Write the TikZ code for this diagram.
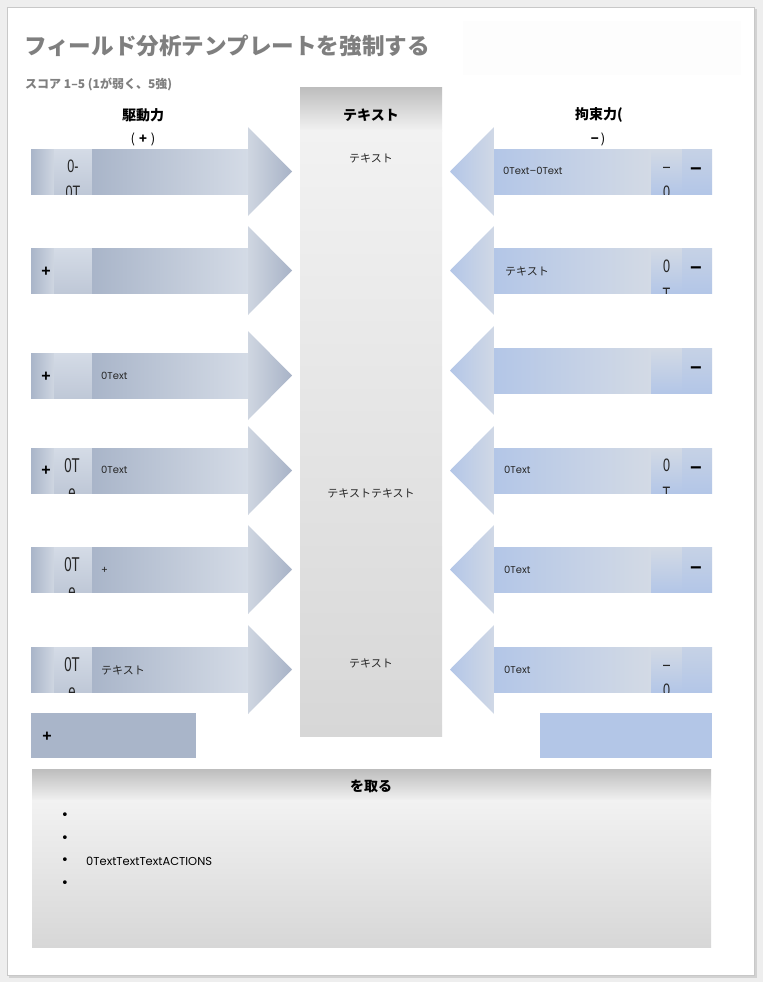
\documentclass[tikz,border=0pt]{standalone}
\usepackage{fontspec}
\setmainfont{Poppins}
\newfontfamily\jp{Noto Sans CJK JP}
\newfontfamily\ls{Liberation Sans}
\newfontfamily\dv{DejaVu Sans}
\definecolor{pagebg}{HTML}{EEEEEE}
\definecolor{shadowc}{HTML}{D2D2D2}
\definecolor{pageline}{HTML}{C8C8C8}
\definecolor{faint}{HTML}{FDFDFD}
\definecolor{titlegray}{HTML}{7F7F7F}
\definecolor{lD}{HTML}{A9B5C9}
\definecolor{lL}{HTML}{D4DBE6}
\definecolor{lM}{HTML}{BFC8D7}
\definecolor{lHL}{HTML}{CFD6E1}
\definecolor{lHD}{HTML}{A8B3C7}
\definecolor{rD}{HTML}{B3C6E7}
\definecolor{rL}{HTML}{D3DAE5}
\definecolor{rHL}{HTML}{D0D8E6}
\definecolor{gTop}{HTML}{BDBDBD}
\definecolor{gMid}{HTML}{F2F2F2}
\definecolor{gBot}{HTML}{D7D7D7}
\definecolor{txt}{HTML}{262626}
\newcommand\LeftRow[1]{%
  \shade[left color=lD, right color=lHL] (31,#1) rectangle (54,#1+45);
  \shade[top color=lL, bottom color=lM] (54,#1) rectangle (92,#1+45);
  \shade[left color=lD, right color=lL] (92,#1) rectangle (248,#1+45);
  \shade[left color=lHL, right color=lHD] (248,#1-22) -- (292,#1+22.5) -- (248,#1+67) -- cycle;
}
\newcommand\RightRow[1]{%
  \shade[left color=rD, right color=rHL] (494,#1-22) -- (450,#1+22.5) -- (494,#1+67) -- cycle;
  \shade[left color=rD, right color=rL] (494,#1) rectangle (651,#1+45);
  \shade[top color=rL, bottom color=rD] (651,#1) rectangle (682,#1+45);
  \shade[top color=rL!60!rD, bottom color=rD] (682,#1) rectangle (712,#1+45);
}
\begin{document}
\begin{tikzpicture}[x=1pt,y=-1pt,
  jptxt/.style={font=\jp\fontsize{11}{13}\selectfont, text=txt, inner sep=0pt},
  jphead/.style={font=\jp\bfseries\fontsize{14}{16}\selectfont, text=black, inner sep=0pt},
  rowtxt/.style={font=\fontsize{10}{12}\selectfont, text=txt, inner sep=0pt, anchor=west},
  celltxt/.style={font=\ls\fontsize{18}{20}\selectfont, text=txt, inner sep=0pt, anchor=base, xscale=0.7},
  bigcell/.style={font=\ls\fontsize{20}{22}\selectfont, text=txt, inner sep=0pt, anchor=base, xscale=0.66},
  plus/.style={font=\ls\bfseries\fontsize{16}{18}\selectfont, text=black, inner sep=0pt},
  minus/.style={font=\ls\bfseries\fontsize{20}{22}\selectfont, text=black, inner sep=0pt},
  bullet/.style={font=\dv\fontsize{13}{15}\selectfont, text=black, inner sep=0pt}]
\useasboundingbox (0,0) rectangle (763,982);
\fill[pagebg] (0,0) rectangle (763,982);
\fill[shadowc] (9,9) rectangle (757,978);
\filldraw[fill=white, draw=pageline, line width=0.8pt] (7,7) rectangle (754,975);
\fill[faint] (463,21) rectangle (741,75);
% title
\node[anchor=west, font=\jp\bfseries\fontsize{22.6}{26}\selectfont, text=titlegray, inner sep=0pt] (title) at (24,46) {フィールド分析テンプレートを強制する};
\node[anchor=west, font=\jp\bfseries\fontsize{12}{14}\selectfont, text=titlegray, inner sep=0pt] (subtitle) at (25,84) {スコア 1–5 (1が弱く、5強)};
% center column
\shade[top color=gTop, bottom color=gMid] (300,87) rectangle (442,131);
\shade[top color=gMid, bottom color=gBot] (300,130) rectangle (442,736);
\node[jphead] (chead) at (371,115) {テキスト};
\node[jptxt] (c1) at (371,158) {テキスト};
\node[jptxt] (c2) at (371,493) {テキストテキスト};
\node[jptxt] (c3) at (371,663) {テキスト};
% headers
\node[jphead] (lhead) at (143,115) {駆動力};
\node[font=\jp\fontsize{13}{15}\selectfont, inner sep=0pt] (lhead2) at (143,139) {(\hspace{4pt}\textbf{+}\hspace{4pt})};
\node[jphead] (rhead) at (599,115) {拘束力(};
\node[font=\jp\fontsize{13}{15}\selectfont, inner sep=0pt] (rhead2) at (598,139) {\textbf{−}\hspace{2pt})};
% left rows
\LeftRow{149}\LeftRow{248}\LeftRow{353}\LeftRow{448}\LeftRow{547}\LeftRow{647}
% right rows
\RightRow{149}\RightRow{248}\RightRow{348}\RightRow{448}\RightRow{547}\RightRow{647}
% bottom boxes
\fill[lD] (31,713) rectangle (196,758);
\fill[rD] (540,713) rectangle (712,758);
\node[plus] (lbplus) at (47,737) {+};
% left row texts
\begin{scope}
\clip (54,149) rectangle (92,194);
\node[celltxt] (l1a) at (73,172) {0-};
\node[celltxt] (l1b) at (73,198) {0T};
\end{scope}
\node[plus] (l2p) at (46,272) {+};
\node[plus] (l3p) at (46,377) {+};
\node[rowtxt] (l3t) at (101,376) {0Text};
\node[plus] (l4p) at (46,471) {+};
\begin{scope}
\clip (54,448) rectangle (92,493);
\node[bigcell] (l4a) at (72,472) {0T};
\node[bigcell] (l4b) at (72,499) {e};
\end{scope}
\node[rowtxt] (l4t) at (101,470) {0Text};
\begin{scope}
\clip (54,547) rectangle (92,592);
\node[bigcell] (l5a) at (72,571) {0T};
\node[bigcell] (l5b) at (72,598) {e};
\end{scope}
\node[rowtxt] (l5t) at (101,570) {+};
\begin{scope}
\clip (54,647) rectangle (92,692);
\node[bigcell] (l6a) at (72,671) {0T};
\node[bigcell] (l6b) at (72,698) {e};
\end{scope}
\node[jptxt, anchor=west] (l6t) at (101,670) {テキスト};
% right row texts
\node[rowtxt] (r1t) at (503,171) {0Text–0Text};
\begin{scope}
\clip (651,149) rectangle (682,194);
\node[celltxt] (r1a) at (666.5,172) {–};
\node[celltxt] (r1b) at (666.5,198) {0};
\end{scope}
\node[minus] (r1m) at (696,172) {−};
\node[jptxt, anchor=west] (r2t) at (505,271) {テキスト};
\begin{scope}
\clip (651,248) rectangle (682,293);
\node[celltxt] (r2a) at (666.5,272) {0};
\node[celltxt] (r2b) at (666.5,300) {T};
\end{scope}
\node[minus] (r2m) at (696,271) {−};
\node[minus] (r3m) at (696,371) {−};
\node[rowtxt] (r4t) at (504,470) {0Text};
\begin{scope}
\clip (651,448) rectangle (682,493);
\node[celltxt] (r4a) at (666.5,471) {0};
\node[celltxt] (r4b) at (666.5,499) {T};
\end{scope}
\node[minus] (r4m) at (696,471) {−};
\node[rowtxt] (r5t) at (504,570) {0Text};
\node[minus] (r5m) at (696,571) {−};
\node[rowtxt] (r6t) at (504,670) {0Text};
\begin{scope}
\clip (651,647) rectangle (682,692);
\node[celltxt] (r6a) at (666.5,670) {–};
\node[celltxt] (r6b) at (666.5,696) {0};
\end{scope}
% action box
\shade[top color=gTop, bottom color=gMid] (32,769) rectangle (711,801);
\shade[top color=gMid, bottom color=gBot] (32,800) rectangle (711,947);
\node[jphead] (ahead) at (371,786) {を取る};
\node[bullet] (b1) at (65,816) {•};
\node[bullet] (b2) at (65,839) {•};
\node[bullet] (b3) at (65,861) {•};
\node[bullet] (b4) at (65,884) {•};
\node[font=\fontsize{11.5}{13}\selectfont, text=black, inner sep=0pt, anchor=west] (b3t) at (86,861) {0TextTextTextACTIONS};
\end{tikzpicture}
\end{document}
